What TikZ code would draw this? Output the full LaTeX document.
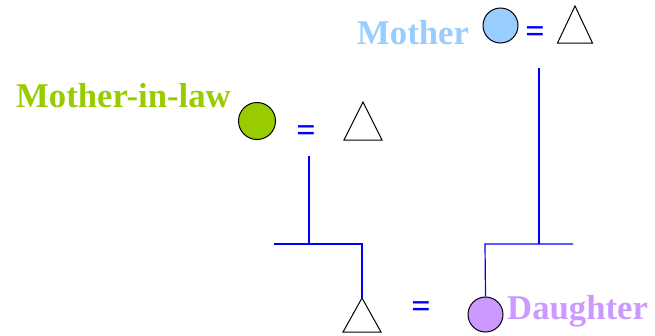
\documentclass[tikz,border=0pt]{standalone}
\usepackage{fontspec}
\setmainfont{Liberation Serif}
\usetikzlibrary{positioning}
\definecolor{motherblue}{RGB}{153,204,255}
\definecolor{lawgreen}{RGB}{153,204,0}
\definecolor{daughterlilac}{RGB}{204,153,255}
\tikzset{
  female/.style={circle, draw=black, line width=1pt, minimum size=35pt, inner sep=0pt},
  wed/.style={text=blue, font=\fontsize{34}{36}\selectfont\bfseries, inner sep=0pt},
  kin/.style={font=\fontsize{34.7}{36}\selectfont\bfseries, inner sep=0pt, anchor=base west},
  descent/.style={blue, line width=1.2pt},
  male/.style={draw=black, line width=1pt, line join=miter}
}
\begin{document}
\begin{tikzpicture}[x=1pt, y=-1pt]
    \useasboundingbox (0,0) rectangle (655,335);

    % women
    \node[female, fill=motherblue] (mother) at (500.5,25.5) {};
    \node[female, fill=lawgreen, minimum size=37pt] (motherinlaw) at (257,121) {};
    \node[female, fill=daughterlilac] (daughter) at (485.5,314.5) {};

    % men (apex, width, height)
    \foreach \n/\ax/\ay/\w/\h in {father/575/6/35/37, fatherinlaw/363/102/38/38, son/362/298/38/34} {
            \coordinate (\n) at (\ax,\ay);
            \draw[male] (\n) -- ++(-\w/2,\h) -- ++(\w,0) -- cycle;
        }

    % marriages
    \node[wed] (wedtop) at (535,35) {=};
    \node[wed] (wedmid) at (306,134) {=};
    \node[wed] (wedlow) at (421,310) {=};

    % names
    \node[kin, text=motherblue] (mothername) at (357,44) {Mother};
    \node[kin, text=lawgreen] (lawname) at (16,107) {Mother-in-law};
    \node[kin, text=daughterlilac] (daughtername) at (507,319) {Daughter};

    % descent lines
    \coordinate (lawdrop) at (309,156);
    \coordinate (lawbarL) at (274,244);
    \coordinate (lawbarR) at (362,244);
    \draw[descent] (lawdrop) -- (lawdrop |- lawbarL);
    \draw[descent] (lawbarL) -- (lawbarR) -- (son);

    \coordinate (motherdrop) at (539,68);
    \coordinate (motherbarL) at (485,244);
    \coordinate (motherbarR) at (573,244);
    \draw[descent] (motherdrop) -- (motherdrop |- motherbarR);
    \draw[descent] (motherbarR) -- (motherbarL) -- (daughter.north);
\end{tikzpicture}
\end{document}
